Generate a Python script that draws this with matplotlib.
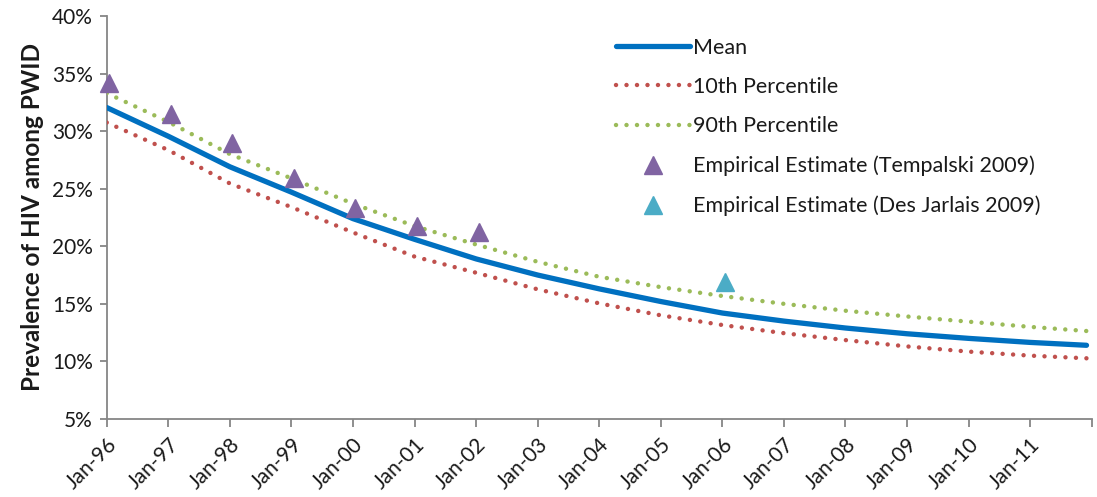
import numpy as np
import matplotlib
matplotlib.use("Agg")
import matplotlib.pyplot as plt
import matplotlib.dates as mdates
from matplotlib.ticker import FixedLocator, FuncFormatter

# Model output, read at January of each year (last point Dec-11)
model_dates = np.array([f"{y}-01-01" for y in range(1996, 2012)] + ["2011-12-01"],
                       dtype="datetime64[D]")
mean_prev = [32.05, 29.55, 26.9, 24.7, 22.4, 20.6, 18.9, 17.5, 16.3, 15.2,
             14.2, 13.5, 12.9, 12.4, 12.0, 11.65, 11.4]
p10_prev = [30.75, 28.35, 25.45, 23.4, 21.2, 19.1, 17.7, 16.26, 15.04, 14.0,
            13.16, 12.45, 11.85, 11.3, 10.85, 10.5, 10.27]
p90_prev = [33.3, 30.8, 28.0, 25.9, 23.7, 21.75, 20.15, 18.65, 17.35, 16.45,
            15.68, 15.0, 14.4, 13.9, 13.45, 13.0, 12.64]

# Empirical estimates
temp_dates = np.array([f"{y}-01-15" for y in range(1996, 2003)], dtype="datetime64[D]")
temp_prev = [34.2, 31.5, 29.0, 25.9, 23.3, 21.8, 21.2]
dj_dates = np.array(["2006-01-15"], dtype="datetime64[D]")
dj_prev = [16.9]

plt.rcParams['font.family'] = ['Lato', 'DejaVu Sans']

fig = plt.figure(figsize=(10.97, 4.97), dpi=100)
ax = fig.add_axes([0.0973, 0.157, 0.8979, 0.8108])

dots = (0, (0.01, 2.35))
ax.plot(model_dates, mean_prev, color='#0070C0', lw=3.8, solid_capstyle='round',
        label='Mean', zorder=3)
ax.plot(model_dates, p10_prev, color='#C0504D', lw=3.2, ls=dots, dash_capstyle='round',
        label='10th Percentile', zorder=3)
ax.plot(model_dates, p90_prev, color='#9BBB59', lw=3.2, ls=dots, dash_capstyle='round',
        label='90th Percentile', zorder=3)
ax.plot(temp_dates, temp_prev, ls='none', marker='^', ms=12.5, color='#8064A2',
        label='Empirical Estimate (Tempalski 2009)', zorder=4, clip_on=False)
ax.plot(dj_dates, dj_prev, ls='none', marker='^', ms=12.5, color='#4BACC6',
        label='Empirical Estimate (Des Jarlais 2009)', zorder=4)

ax.set_xlim(np.datetime64("1996-01-01"), np.datetime64("2012-01-01"))
ax.set_ylim(5, 40)
ax.set_yticks(range(5, 41, 5))
ax.yaxis.set_major_formatter(FuncFormatter(lambda v, p: f"{v:.0f}%"))

year_ticks = [mdates.date2num(np.datetime64(f"{y}-01-01")) for y in range(1996, 2013)]
ax.xaxis.set_major_locator(FixedLocator(year_ticks))
labels = [f"Jan-{str(y)[2:]}" for y in range(1996, 2012)] + [""]
ax.set_xticklabels(labels, rotation=45, ha='right', rotation_mode='anchor')

for side in ['top', 'right']:
    ax.spines[side].set_visible(False)
for side in ['left', 'bottom']:
    ax.spines[side].set_color('#868686')
    ax.spines[side].set_linewidth(1.3)
ax.tick_params(axis='both', colors='#868686', width=1.3, labelcolor='#1a1a1a',
               labelsize=15)
ax.tick_params(axis='y', length=5, pad=5)
ax.tick_params(axis='x', length=6, pad=5)

ax.set_ylabel("Prevalence of HIV among PWID", fontsize=17.5, fontweight='bold',
              color='#1a1a1a', labelpad=6)

leg = ax.legend(loc='upper left', bbox_to_anchor=(0.508, 0.968), frameon=False,
                fontsize=15.5, handlelength=3.45, handletextpad=0.15,
                labelspacing=0.9, borderaxespad=0)
for t in leg.get_texts():
    t.set_color('#1a1a1a')

plt.savefig("out.png", dpi=100)
